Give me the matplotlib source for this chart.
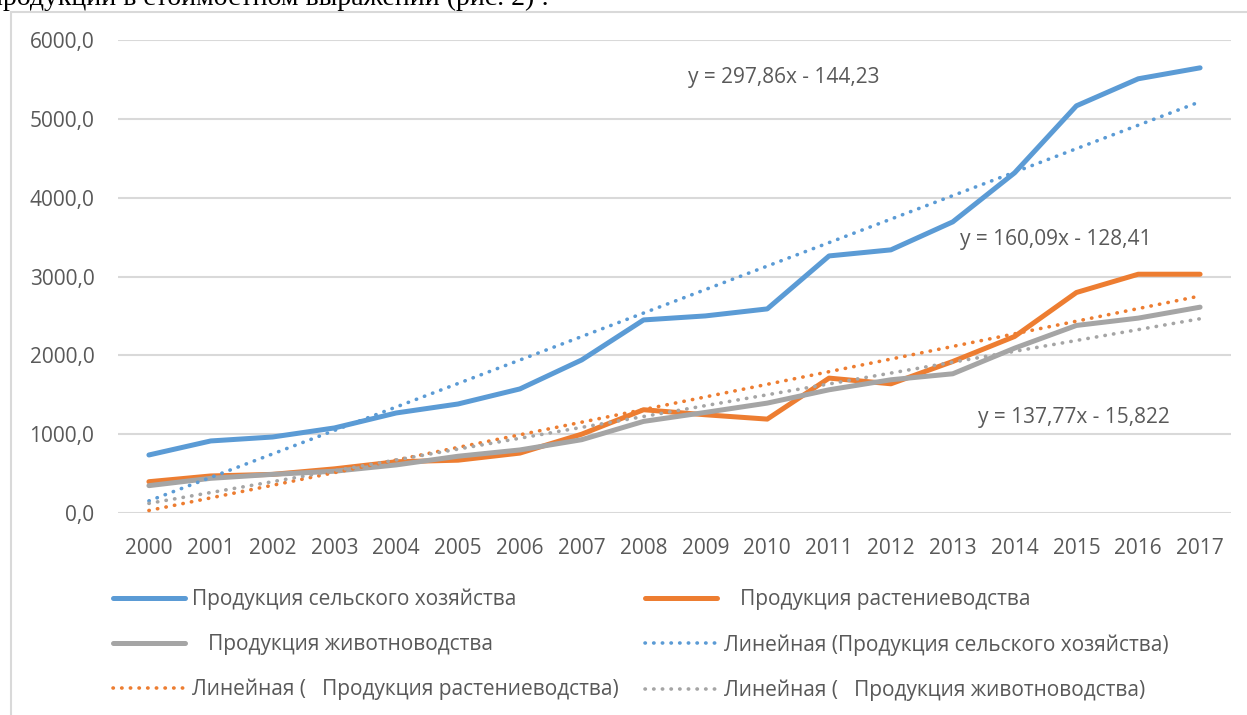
import matplotlib
matplotlib.use('Agg')
import matplotlib.pyplot as plt
from matplotlib.patches import Rectangle
from matplotlib.ticker import FuncFormatter
import numpy as np

# data
years = [str(y) for y in range(2000, 2018)]
agri = [736, 914, 964, 1079, 1269, 1383, 1574, 1942, 2449, 2500,
        2589, 3261, 3338, 3693, 4315, 5165, 5508, 5647]
crop = [397, 470, 490, 560, 650, 670, 760, 1000, 1310, 1246,
        1191, 1711, 1639, 1922, 2239, 2797, 3029, 3029]
live = [347, 440, 490, 530, 610, 720, 800, 930, 1162, 1276,
        1394, 1563, 1690, 1766, 2091, 2379, 2472, 2611]

# trend line coefficients (slope, intercept) as printed on the chart
trend_agri = (297.86, -144.23)
trend_crop = (160.09, -128.41)
trend_live = (137.77, -15.822)

eq_labels = ['y = 297,86x - 144,23', 'y = 160,09x - 128,41', 'y = 137,77x - 15,822']

c_blue = '#5B9BD5'
c_orange = '#ED7D31'
c_gray = '#A5A5A5'
c_text = '#595959'

plt.rcParams['font.family'] = ['Open Sans', 'DejaVu Sans']

fig = plt.figure(figsize=(12.47, 7.15), dpi=100)
W, H = 1247, 715
ax = fig.add_axes([118 / W, 1 - 513 / H, (1231 - 118) / W, (513 - 40) / H])

x = np.arange(len(years))
t = x + 1

l_agri, = ax.plot(x, agri, color=c_blue, lw=3.6, solid_capstyle='round', zorder=3,
                  label='Продукция сельского хозяйства')
l_crop, = ax.plot(x, crop, color=c_orange, lw=3.6, solid_capstyle='round', zorder=3,
                  label='   Продукция растениеводства')
l_live, = ax.plot(x, live, color=c_gray, lw=3.6, solid_capstyle='round', zorder=3,
                  label='   Продукция животноводства')

dot = (0, (0.1, 2.3))
t_agri, = ax.plot(x, trend_agri[0] * t + trend_agri[1], color=c_blue, lw=2.6,
                  linestyle=dot, dash_capstyle='round', zorder=4,
                  label='Линейная (Продукция сельского хозяйства)')
t_crop, = ax.plot(x, trend_crop[0] * t + trend_crop[1], color=c_orange, lw=2.6,
                  linestyle=dot, dash_capstyle='round', zorder=4,
                  label='Линейная (   Продукция растениеводства)')
t_live, = ax.plot(x, trend_live[0] * t + trend_live[1], color=c_gray, lw=2.6,
                  linestyle=dot, dash_capstyle='round', zorder=4,
                  label='Линейная (   Продукция животноводства)')

ax.set_xlim(-0.5, len(years) - 0.5)
ax.set_ylim(0, 6000)
ax.set_xticks(x)
ax.set_xticklabels(years)
ax.set_yticks(np.arange(0, 6001, 1000))
ax.yaxis.set_major_formatter(FuncFormatter(lambda v, p: f'{v:.1f}'.replace('.', ',')))
ax.tick_params(axis='both', length=0, labelsize=15, labelcolor=c_text)
ax.tick_params(axis='y', pad=17)
ax.tick_params(axis='x', pad=18)
for s in ax.spines.values():
    s.set_visible(False)
ax.grid(axis='y', color='#D9D9D9', lw=1.5)
ax.set_axisbelow(True)

# trend equations
fig.text(688 / W, 1 - 78 / H, eq_labels[0], fontsize=15, color=c_text, va='center')
fig.text(960 / W, 1 - 240 / H, eq_labels[1], fontsize=15, color=c_text, va='center')
fig.text(978 / W, 1 - 418 / H, eq_labels[2], fontsize=15, color=c_text, va='center')

# legend: row order as in the reference
handles = [l_agri, l_live, t_crop, l_crop, t_agri, t_live]
fig.legend(handles, [h.get_label() for h in handles], ncol=2, frameon=False,
           loc='upper left', bbox_to_anchor=(113 / W, 1 - 589 / H),
           borderaxespad=0, borderpad=0, fontsize=15, labelcolor=c_text,
           handlelength=3.45, handletextpad=0.35, labelspacing=1.14,
           columnspacing=1.25)

# chart frame and the cut-off page text above it
fig.patches.append(Rectangle((11 / W, -0.1), 1.2, 1.1 - 12 / H, transform=fig.transFigure,
                             fill=False, edgecolor='#D9D9D9', lw=1.5))
fig.text(-12 / W, 1 - 5 / H, 'продукции в стоимостном выражении (рис. 2) :',
         family='Liberation Serif', fontsize=20, color='black', va='baseline')

plt.savefig('out.png', dpi=100)
